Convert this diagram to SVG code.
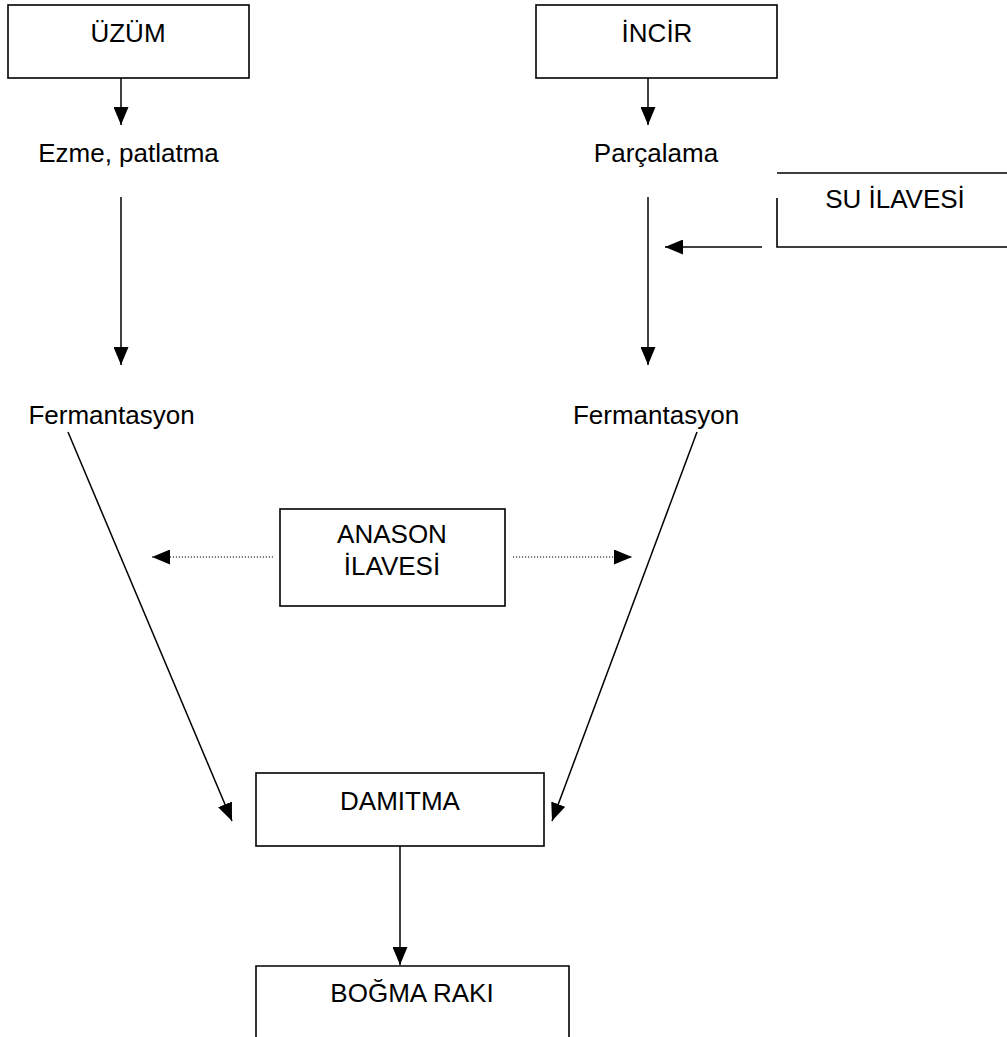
<svg xmlns="http://www.w3.org/2000/svg" width="1007" height="1037" viewBox="0 0 1007 1037">
<style>
.box{fill:#fff;stroke:#000;stroke-width:1.6}
.edge{fill:none;stroke:#000;stroke-width:1.5}
.dot{fill:none;stroke:#000;stroke-width:1.2;stroke-dasharray:1.2 1.8}
text{font-family:"Liberation Sans",Arial,sans-serif;font-size:26px;fill:#000;text-anchor:middle}
</style>
<defs>
<marker id="ah" viewBox="0 0 18 15" refX="18" refY="7.5" markerWidth="18" markerHeight="15" markerUnits="userSpaceOnUse" orient="auto">
<path d="M0,0 L18,7.5 L0,15 Z" fill="#000"/>
</marker>
</defs>
<rect width="1007" height="1037" fill="#fff"/>
<g id="connectors">
<line class="edge" x1="121" y1="78" x2="121" y2="125" marker-end="url(#ah)"/>
<line class="edge" x1="121" y1="197" x2="121" y2="365" marker-end="url(#ah)"/>
<line class="edge" x1="648" y1="78" x2="648" y2="125" marker-end="url(#ah)"/>
<line class="edge" x1="648" y1="197" x2="648" y2="365" marker-end="url(#ah)"/>
<line class="edge" x1="762" y1="247" x2="665" y2="247" marker-end="url(#ah)"/>
<line class="edge" x1="68" y1="432" x2="232" y2="821" marker-end="url(#ah)"/>
<line class="edge" x1="697" y1="432" x2="552" y2="821" marker-end="url(#ah)"/>
<line class="dot" x1="273" y1="557" x2="152" y2="557" marker-end="url(#ah)"/>
<line class="dot" x1="513" y1="557" x2="632" y2="557" marker-end="url(#ah)"/>
<line class="edge" x1="400" y1="846" x2="400" y2="965" marker-end="url(#ah)"/>
</g>
<g id="uzum"><rect class="box" x="8" y="5" width="241" height="73"/><text x="128" y="42">ÜZÜM</text></g>
<g id="ezme"><text x="128.5" y="162">Ezme, patlatma</text></g>
<g id="ferm1"><text x="111.5" y="424">Fermantasyon</text></g>
<g id="incir"><rect class="box" x="536" y="5" width="241" height="73"/><text x="657" y="42">İNCİR</text></g>
<g id="parcalama"><text x="656" y="162">Parçalama</text></g>
<g id="ferm2"><text x="656" y="424">Fermantasyon</text></g>
<g id="su"><path class="edge" d="M777,173 H1010 M777,198 V247 H1010" style="stroke-width:1.6"/><text x="895" y="208">SU İLAVESİ</text></g>
<g id="anason"><rect class="box" x="280" y="509" width="225" height="97"/><text x="392" y="543">ANASON</text><text x="392" y="575">İLAVESİ</text></g>
<g id="damitma"><rect class="box" x="256" y="773" width="288" height="73"/><text x="400" y="810">DAMITMA</text></g>
<g id="bogma"><path class="edge" d="M256,1040 V966 H569 V1040" style="stroke-width:1.6"/><text x="412" y="1002">BOĞMA RAKI</text></g>
</svg>
